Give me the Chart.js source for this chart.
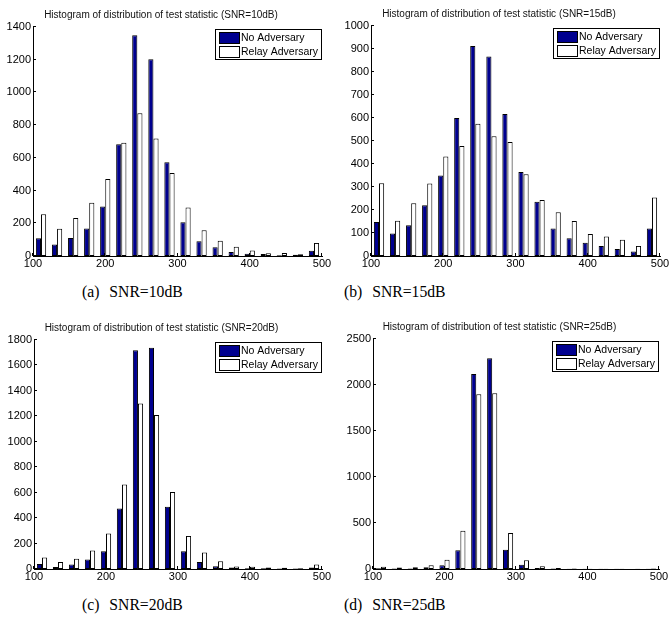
<!DOCTYPE html>
<html>
<head>
<meta charset="utf-8">
<title>Histogramas</title>
<script src="https://cdn.jsdelivr.net/npm/chart.js@4.4.1/dist/chart.umd.min.js"></script>
<style>
    html, body { margin: 0; padding: 0; background: #fff; width: 669px; height: 621px; overflow: hidden; }
    .panel { position: absolute; }
    .caption {
        position: absolute;
        font-family: "Liberation Serif", "Times New Roman", serif;
        font-size: 15.7px;
        line-height: 18px;
        word-spacing: 6px;
        color: #000;
        white-space: nowrap;
    }
</style>
</head>
<body>

<div class="panel" style="left:0px;top:0px"><canvas id="snr10" width="338" height="276"></canvas></div>
<div class="panel" style="left:338px;top:-1px"><canvas id="snr15" width="338" height="277"></canvas></div>
<div class="panel" style="left:1px;top:313px"><canvas id="snr20" width="337" height="276"></canvas></div>
<div class="panel" style="left:340px;top:312px"><canvas id="snr25" width="335" height="277"></canvas></div>

<div class="caption" style="left:82px;top:283px">(a) SNR=10dB</div>
<div class="caption" style="left:344px;top:283px">(b) SNR=15dB</div>
<div class="caption" style="left:82px;top:596px">(c) SNR=20dB</div>
<div class="caption" style="left:344px;top:596px">(d) SNR=25dB</div>

<script>
// centros de los 18 intervalos del histograma
const binCenters = [111.1, 133.3, 155.6, 177.8, 200.0, 222.2, 244.4, 266.7, 288.9,
                    311.1, 333.3, 355.6, 377.8, 400.0, 422.2, 444.4, 466.7, 488.9];

const xTicks = [100, 200, 300, 400, 500];

// SNR = 10 dB
const noAdv10 = [108, 70, 110, 168, 303, 683, 1350, 1203, 573, 207, 90, 53, 25, 13, 12, 5, 7, 32];
const relay10 = [256, 166, 233, 325, 471, 693, 873, 718, 508, 296, 158, 93, 57, 33, 17, 18, 10, 80];

// SNR = 15 dB
const noAdv15 = [148, 98, 134, 221, 350, 600, 913, 867, 617, 365, 236, 120, 77, 58, 44, 30, 20, 120];
const relay15 = [316, 153, 229, 315, 433, 478, 575, 521, 496, 355, 243, 190, 152, 96, 85, 71, 44, 254];

// SNR = 20 dB
const noAdv20 = [40, 15, 35, 75, 140, 475, 1720, 1740, 490, 140, 55, 22, 12, 6, 5, 4, 3, 12];
const relay20 = [90, 55, 80, 145, 280, 665, 1300, 1210, 605, 260, 130, 60, 20, 18, 12, 10, 6, 35];

// SNR = 25 dB
const noAdv25 = [8, 5, 5, 18, 42, 205, 2120, 2290, 210, 45, 12, 5, 3, 2, 2, 2, 1, 3];
const relay25 = [25, 15, 20, 40, 100, 415, 1900, 1910, 390, 95, 30, 12, 5, 4, 3, 2, 2, 5];

const yMax = [1400, 1000, 1800, 2500];
const yStep = [200, 100, 200, 500];
const snrLabels = ["10dB", "15dB", "20dB", "25dB"];

// marcas de los ejes hacia dentro (estilo MATLAB)
const marcasInternas = {
    id: "marcasInternas",
    afterDatasetsDraw(chart) {
        const { ctx, chartArea, scales } = chart;
        ctx.save();
        ctx.strokeStyle = "#000";
        ctx.lineWidth = 1;
        ctx.beginPath();
        scales.x.ticks.forEach((t) => {
            const px = Math.round(scales.x.getPixelForValue(t.value)) - 0.5;
            ctx.moveTo(px, chartArea.bottom);
            ctx.lineTo(px, chartArea.bottom - 3);
        });
        scales.y.ticks.forEach((t) => {
            const py = Math.round(scales.y.getPixelForValue(t.value)) - 0.5;
            ctx.moveTo(chartArea.left, py);
            ctx.lineTo(chartArea.left + 3, py);
        });
        ctx.stroke();
        ctx.restore();
    }
};

// leyenda con caja, arriba a la derecha dentro del area
const leyendaCaja = {
    id: "leyendaCaja",
    afterDraw(chart) {
        const { ctx, chartArea } = chart;
        const sets = chart.data.datasets;
        ctx.save();
        ctx.font = "10.5px 'Liberation Sans'";
        const textW = Math.max(...sets.map((d) => ctx.measureText(d.label).width));
        const w = Math.round(26 + textW + 3);
        const h = 30;
        const x0 = Math.round(chartArea.right - w - 1);
        const y0 = Math.round(chartArea.top + 2);
        ctx.fillStyle = "#fff";
        ctx.fillRect(x0, y0, w, h);
        ctx.strokeStyle = "#000";
        ctx.lineWidth = 1;
        ctx.strokeRect(x0 + 0.5, y0 + 0.5, w, h);
        sets.forEach((d, i) => {
            const yy = y0 + 3 + i * 14;
            ctx.fillStyle = d.backgroundColor;
            ctx.fillRect(x0 + 4, yy, 20, 11);
            ctx.strokeStyle = "#000";
            ctx.strokeRect(x0 + 4.5, yy + 0.5, 20, 11);
            ctx.fillStyle = "#000";
            ctx.textBaseline = "middle";
            ctx.fillText(d.label, x0 + 26, yy + 6.5);
        });
        ctx.restore();
    }
};

function creaHistograma(id, n, noAdv, relay) {
    const fuente = { family: "'Liberation Sans', Arial, sans-serif", size: 11 };
    const config = {
        type: "bar",
        data: {
            datasets: [{
                label: "No Adversary",
                data: binCenters.map((x, i) => ({ x: x, y: noAdv[i] })),
                backgroundColor: "#00008f",
                borderColor: "#000",
                borderWidth: 1,
                borderSkipped: false
            }, {
                label: "Relay Adversary",
                data: binCenters.map((x, i) => ({ x: x, y: relay[i] })),
                backgroundColor: "#ffffff",
                borderColor: "#000",
                borderWidth: 1,
                borderSkipped: false
            }]
        },
        options: {
            responsive: false,
            animation: false,
            layout: { padding: { left: 0, right: 16, top: 0, bottom: 0 } },
            datasets: { bar: { categoryPercentage: 0.64, barPercentage: 1 } },
            scales: {
                x: {
                    type: "linear",
                    offset: false,
                    min: xTicks[0],
                    max: xTicks[xTicks.length - 1],
                    grid: { display: false, drawTicks: false },
                    border: { color: "#000", width: 1 },
                    ticks: {
                        stepSize: 100, padding: 1, color: "#000", font: fuente,
                        maxRotation: 0, autoSkip: false,
                        callback: (v) => String(v)
                    },
                    afterFit: (s) => { s.height = 20; }
                },
                y: {
                    min: 0,
                    max: yMax[n],
                    grid: { display: false, drawTicks: false },
                    border: { color: "#000", width: 1 },
                    ticks: {
                        stepSize: yStep[n], padding: 2, color: "#000", font: fuente,
                        callback: (v) => String(v)
                    },
                    afterFit: (s) => { s.width = 33; }
                }
            },
            plugins: {
                title: {
                    display: true,
                    text: "Histogram of distribution of test statistic (SNR=" + snrLabels[n] + ")",
                    color: "#111",
                    font: { family: "'Liberation Sans', Arial, sans-serif", size: 10, weight: "normal", lineHeight: 1.2 },
                    padding: { top: 9, bottom: 6 }
                },
                legend: { display: false },
                tooltip: { enabled: false }
            }
        },
        plugins: [marcasInternas, leyendaCaja]
    };

    const ctx = document.getElementById(id).getContext("2d");
    return new Chart(ctx, config);
}

creaHistograma("snr10", 0, noAdv10, relay10);
creaHistograma("snr15", 1, noAdv15, relay15);
creaHistograma("snr20", 2, noAdv20, relay20);
creaHistograma("snr25", 3, noAdv25, relay25);
</script>
</body>
</html>
